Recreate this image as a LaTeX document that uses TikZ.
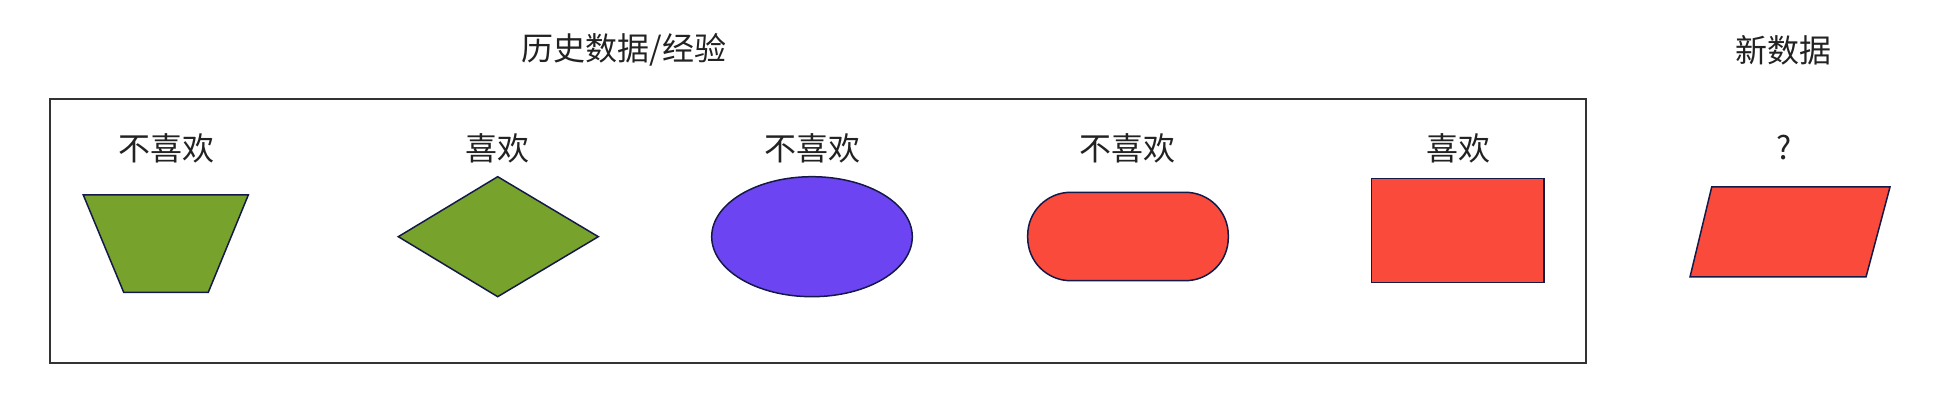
\documentclass[tikz,border=0pt]{standalone}
\usepackage{fontspec}
\setmainfont{Noto Sans CJK SC}
\definecolor{shapegreen}{HTML}{77A22B}
\definecolor{shapepurple}{HTML}{6D44F2}
\definecolor{shapered}{HTML}{F94A3C}
\definecolor{edgenavy}{HTML}{141A48}
\definecolor{framegray}{HTML}{333333}
\definecolor{textdark}{HTML}{222222}
\tikzset{
  lbl/.style={inner sep=0pt, font=\fontsize{16pt}{19pt}\selectfont, text=textdark},
  shp/.style={draw=edgenavy, line width=0.75pt, line join=miter},
  framebox/.style={draw=framegray, line width=1pt}
}
\begin{document}
\begin{tikzpicture}[x=0.5pt, y=-0.5pt]
\useasboundingbox (0,0) rectangle (1940,410);
% titles
\node[lbl] (title) at (624,50) {历史数据/经验};
\node[lbl] (newtitle) at (1783.5,50) {新数据};
% frame
\draw[framebox] (50,99) rectangle (1586,362.7);
% labels
\node[lbl] (l1) at (166,148) {不喜欢};
\node[lbl] (l2) at (497.5,148) {喜欢};
\node[lbl] (l3) at (812,148) {不喜欢};
\node[lbl] (l4) at (1127,148) {不喜欢};
\node[lbl] (l5) at (1458,148) {喜欢};
\node[lbl] (l6) at (1784,148) {?};
% shapes
\draw[shp, fill=shapegreen] (83.3,195) -- (248.3,195) -- (208.3,292.3) -- (123.7,292.3) -- cycle;
\draw[shp, fill=shapegreen] (497.7,176.7) -- (598.3,236.7) -- (497.7,296.7) -- (398.3,236.7) -- cycle;
\draw[shp, fill=shapepurple] (812,236.7) ellipse [x radius=100.3, y radius=60];
\draw[shp, fill=shapered, rounded corners=43pt*0.5] (1027.7,192.3) rectangle (1228.3,280.7);
\draw[shp, fill=shapered] (1371.7,178.7) rectangle (1544,282.7);
\draw[shp, fill=shapered] (1711.7,187) -- (1890,187) -- (1866,277) -- (1690,277) -- cycle;
\end{tikzpicture}
\end{document}
